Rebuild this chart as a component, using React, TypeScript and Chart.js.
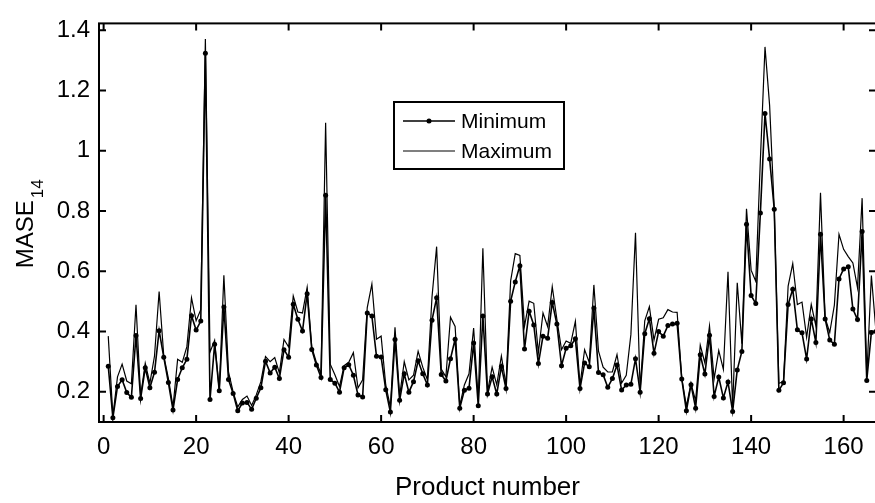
import { useEffect, useRef } from 'react';
import { Chart, registerables } from 'chart.js';

Chart.register(...registerables);

const productNumbers: number[] = [];
for (let p = 1; p <= 167; p++) productNumbers.push(p);

const minimumValues = [
  0.285, 0.114, 0.218, 0.24, 0.198, 0.182, 0.387, 0.178, 0.28, 0.214,
  0.265, 0.403, 0.315, 0.231, 0.14, 0.241, 0.28, 0.308, 0.453, 0.405,
  0.435, 1.324, 0.175, 0.358, 0.204, 0.482, 0.241, 0.195, 0.137, 0.163,
  0.165, 0.142, 0.179, 0.214, 0.302, 0.263, 0.282, 0.244, 0.34, 0.315,
  0.491, 0.441, 0.402, 0.526, 0.341, 0.289, 0.248, 0.853, 0.241, 0.229,
  0.199, 0.28, 0.29, 0.255, 0.19, 0.183, 0.462, 0.452, 0.318, 0.316,
  0.207, 0.133, 0.374, 0.172, 0.26, 0.199, 0.234, 0.303, 0.26, 0.223,
  0.438, 0.512, 0.258, 0.236, 0.31, 0.375, 0.146, 0.205, 0.212, 0.362,
  0.154, 0.452, 0.193, 0.25, 0.193, 0.284, 0.211, 0.501, 0.565, 0.619,
  0.342, 0.468, 0.422, 0.294, 0.385, 0.378, 0.497, 0.425, 0.287, 0.345,
  0.353, 0.376, 0.211, 0.296, 0.283, 0.478, 0.264, 0.257, 0.215, 0.244,
  0.289, 0.206, 0.223, 0.225, 0.31, 0.199, 0.393, 0.443, 0.328, 0.4,
  0.385, 0.42, 0.425, 0.428, 0.243, 0.137, 0.224, 0.146, 0.323, 0.259,
  0.388, 0.185, 0.249, 0.18, 0.233, 0.135, 0.273, 0.334, 0.756, 0.52,
  0.493, 0.794, 1.124, 0.973, 0.806, 0.205, 0.23, 0.49, 0.541, 0.406,
  0.396, 0.309, 0.442, 0.364, 0.723, 0.442, 0.372, 0.358, 0.575, 0.608,
  0.615, 0.475, 0.44, 0.732, 0.238, 0.397, 0.4,
];

const maximumValues = [
  0.385, 0.12, 0.25, 0.292, 0.236, 0.227, 0.489, 0.186, 0.295, 0.229,
  0.319, 0.533, 0.32, 0.245, 0.15, 0.308, 0.298, 0.35, 0.512, 0.436,
  0.473, 1.371, 0.332, 0.371, 0.205, 0.587, 0.266, 0.2, 0.15, 0.175,
  0.186, 0.155, 0.19, 0.234, 0.317, 0.3, 0.314, 0.263, 0.374, 0.349,
  0.518, 0.465, 0.462, 0.547, 0.349, 0.298, 0.26, 1.093, 0.292, 0.257,
  0.218, 0.287, 0.298, 0.33, 0.213, 0.24, 0.48, 0.558, 0.375, 0.385,
  0.223, 0.15, 0.414, 0.186, 0.3, 0.24, 0.255, 0.335, 0.282, 0.24,
  0.515, 0.682, 0.276, 0.25, 0.448, 0.417, 0.155, 0.223, 0.26, 0.412,
  0.175, 0.677, 0.2, 0.282, 0.223, 0.319, 0.223, 0.568, 0.659, 0.653,
  0.418, 0.501, 0.494, 0.33, 0.462, 0.417, 0.549, 0.441, 0.34, 0.369,
  0.361, 0.434, 0.223, 0.34, 0.298, 0.555, 0.335, 0.282, 0.266, 0.266,
  0.324, 0.229, 0.255, 0.39, 0.728, 0.207, 0.436, 0.483, 0.372, 0.441,
  0.446, 0.473, 0.465, 0.464, 0.245, 0.153, 0.228, 0.17, 0.355, 0.296,
  0.419, 0.243, 0.337, 0.275, 0.599, 0.148, 0.562, 0.36, 0.808, 0.604,
  0.567, 0.97, 1.345, 1.15, 0.806, 0.228, 0.235, 0.551, 0.626, 0.49,
  0.498, 0.381, 0.49, 0.419, 0.861, 0.445, 0.397, 0.488, 0.723, 0.673,
  0.649, 0.628, 0.546, 0.843, 0.25, 0.586, 0.4,
];

const xTickValues = [0, 20, 40, 60, 80, 100, 120, 140, 160];
const yTickValues = [0.2, 0.4, 0.6, 0.8, 1, 1.2, 1.4];

const seriesNames = ['Minimum', 'Maximum'];
const xTitle = 'Product number';
const yTitleMain = 'MASE';
const yTitleSub = '14';

const FONT = "'Liberation Sans', Arial, Helvetica, sans-serif";

const framePlugin = {
  id: 'matlabFrame',
  afterDraw(chart: any) {
    const { ctx, chartArea } = chart;
    const { left, right, top, bottom } = chartArea;
    const xs = chart.scales.x;
    const ys = chart.scales.y;
    ctx.save();
    ctx.strokeStyle = '#000';
    ctx.lineWidth = 2;
    ctx.strokeRect(left, top, right - left, bottom - top);
    const tl = 7;
    ctx.beginPath();
    xs.ticks.forEach((t: any) => {
      const px = xs.getPixelForValue(t.value);
      ctx.moveTo(px, bottom);
      ctx.lineTo(px, bottom - tl);
      ctx.moveTo(px, top);
      ctx.lineTo(px, top + tl);
    });
    ys.ticks.forEach((t: any) => {
      const py = ys.getPixelForValue(t.value);
      ctx.moveTo(left, py);
      ctx.lineTo(left + tl, py);
      ctx.moveTo(right, py);
      ctx.lineTo(right - tl, py);
    });
    ctx.stroke();

    // Legend
    const ds = chart.data.datasets;
    const bx = 394, by = 102, bw = 170, bh = 67;
    ctx.fillStyle = '#fff';
    ctx.fillRect(bx, by, bw, bh);
    ctx.lineWidth = 2;
    ctx.strokeRect(bx, by, bw, bh);
    const rows = [121, 151];
    ds.forEach((d: any, i: number) => {
      const yy = rows[i];
      ctx.beginPath();
      ctx.lineWidth = d.borderWidth;
      ctx.moveTo(403, yy);
      ctx.lineTo(455, yy);
      ctx.stroke();
      if (d.pointRadius > 0) {
        ctx.beginPath();
        ctx.fillStyle = '#000';
        ctx.arc(429, yy, d.pointRadius, 0, Math.PI * 2);
        ctx.fill();
      }
      ctx.fillStyle = '#000';
      ctx.font = `21px ${FONT}`;
      ctx.textAlign = 'left';
      ctx.textBaseline = 'middle';
      ctx.fillText(d.label, 461, yy + 1);
    });

    // Y axis title with subscript
    ctx.save();
    ctx.rotate(-Math.PI / 2);
    ctx.fillStyle = '#000';
    ctx.textBaseline = 'alphabetic';
    ctx.textAlign = 'left';
    ctx.font = `24px ${FONT}`;
    const w1 = ctx.measureText(yTitleMain).width;
    ctx.font = `17px ${FONT}`;
    const w2 = ctx.measureText(yTitleSub).width;
    const centerY = (top + bottom) / 2 + 1;
    const start = -(centerY + (w1 + w2 + 2) / 2);
    ctx.font = `24px ${FONT}`;
    ctx.fillText(yTitleMain, start, 33);
    ctx.font = `17px ${FONT}`;
    ctx.fillText(yTitleSub, start + w1 + 2, 43);
    ctx.restore();

    ctx.restore();
  },
};

export default function App() {
  const canvasRef = useRef<HTMLCanvasElement | null>(null);

  useEffect(() => {
    if (!canvasRef.current) return;
    const minData = productNumbers.map((p, i) => ({ x: p, y: minimumValues[i] }));
    const maxData = productNumbers.map((p, i) => ({ x: p, y: maximumValues[i] }));
    const chart = new Chart(canvasRef.current, {
      type: 'line',
      data: {
        datasets: [
          {
            label: seriesNames[0],
            data: minData,
            borderColor: '#000',
            backgroundColor: '#000',
            borderWidth: 1.6,
            pointRadius: 2.5,
            pointBackgroundColor: '#000',
            pointBorderWidth: 0,
            tension: 0,
          },
          {
            label: seriesNames[1],
            data: maxData,
            borderColor: '#000',
            backgroundColor: '#000',
            borderWidth: 1.2,
            pointRadius: 0,
            tension: 0,
          },
        ],
      },
      options: {
        responsive: true,
        maintainAspectRatio: false,
        animation: false,
        layout: { autoPadding: false, padding: { left: 0, right: 1, top: 6, bottom: 0 } },
        plugins: { legend: { display: false }, tooltip: { enabled: false } },
        scales: {
          x: {
            type: 'linear',
            min: -1,
            max: 167,
            grid: { display: false, drawTicks: false },
            border: { display: false },
            afterFit: (s: any) => { s.height = 81; },
            afterBuildTicks: (s: any) => { s.ticks = xTickValues.map((v) => ({ value: v })); },
            ticks: {
              color: '#000',
              padding: 11,
              maxRotation: 0,
              autoSkip: false,
              font: { family: FONT, size: 24 },
              callback: (v: any) => String(v),
            },
            title: {
              display: true,
              text: xTitle,
              color: '#000',
              font: { family: FONT, size: 26 },
              padding: { top: 0, bottom: 0 },
            },
          },
          y: {
            type: 'linear',
            min: 0.1,
            max: 1.423,
            grid: { display: false, drawTicks: false },
            border: { display: false },
            afterFit: (s: any) => { s.width = 99; },
            afterBuildTicks: (s: any) => { s.ticks = yTickValues.map((v) => ({ value: v })); },
            ticks: {
              color: '#000',
              padding: 9,
              font: { family: FONT, size: 24 },
              callback: (v: any) => String(Number(Number(v).toFixed(1))),
            },
          },
        },
      },
      plugins: [framePlugin],
    });
    return () => chart.destroy();
  }, []);

  return (
    <div style={{ position: 'absolute', left: 0, top: 0, width: 875, height: 503, overflow: 'hidden', background: '#fff' }}>
      <div style={{ position: 'relative', width: 877, height: 503 }}>
        <canvas ref={canvasRef} />
      </div>
    </div>
  );
}
